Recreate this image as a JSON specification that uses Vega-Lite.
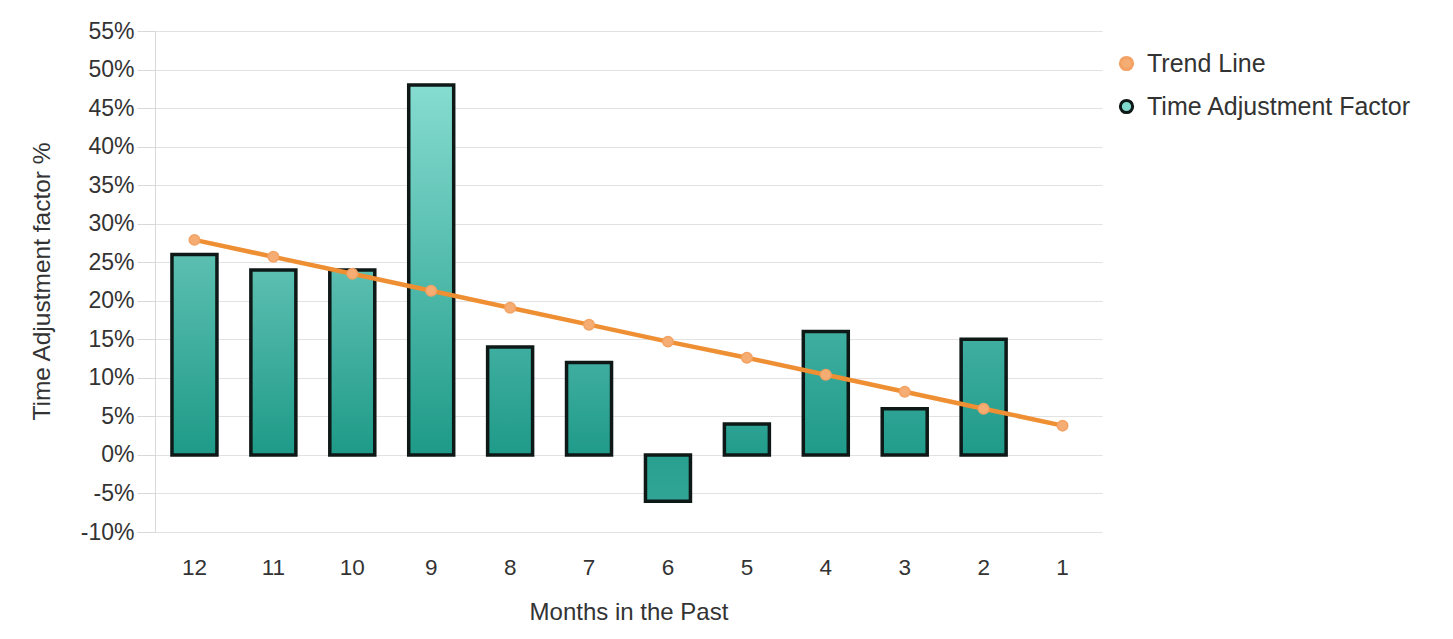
{
  "$schema": "https://vega.github.io/schema/vega-lite/v6.json",
  "width": 947,
  "height": 501,
  "autosize": {"type": "none"},
  "padding": {"left": 155, "top": 31, "right": 351, "bottom": 107},
  "background": "white",
  "config": {
    "font": "Liberation Sans",
    "view": {"stroke": null},
    "axis": {
      "labelColor": "#333333",
      "titleColor": "#333333",
      "labelFont": "Liberation Sans",
      "titleFont": "Liberation Sans",
      "titleFontWeight": "normal"
    },
    "axisY": {
      "labelOverlap": false,
      "labelFontSize": 23,
      "labelPadding": 3,
      "tickSize": 18,
      "tickColor": "#d8d8d8",
      "domainColor": "#d8d8d8",
      "grid": true,
      "gridColor": "#e2e2e2",
      "gridWidth": 1,
      "titleFontSize": 24.5,
      "titleX": -113,
      "titleY": 250,
      "titleAngle": 270,
      "titleAlign": "center",
      "titleBaseline": "middle"
    },
    "legend": {"labelFont": "Liberation Sans"}
  },
  "data": {
    "values": [
      {"month": 12, "factor": 26, "trend": 27.9},
      {"month": 11, "factor": 24, "trend": 25.7},
      {"month": 10, "factor": 24, "trend": 23.5},
      {"month": 9, "factor": 48, "trend": 21.3},
      {"month": 8, "factor": 14, "trend": 19.1},
      {"month": 7, "factor": 12, "trend": 16.9},
      {"month": 6, "factor": -6, "trend": 14.7},
      {"month": 5, "factor": 4, "trend": 12.6},
      {"month": 4, "factor": 16, "trend": 10.4},
      {"month": 3, "factor": 6, "trend": 8.2},
      {"month": 2, "factor": 15, "trend": 6.0},
      {"month": 1, "factor": null, "trend": 3.8}
    ]
  },
  "encoding": {
    "x": {
      "field": "month",
      "type": "ordinal",
      "scale": {
        "domain": [12, 11, 10, 9, 8, 7, 6, 5, 4, 3, 2, 1],
        "paddingInner": 0.43,
        "paddingOuter": 0.215
      },
      "axis": {
        "title": "Months in the Past",
        "labelAngle": 0,
        "labelFontSize": 22.5,
        "titleFontSize": 24,
        "domain": false,
        "ticks": false,
        "grid": false,
        "labelPadding": 24,
        "titleY": 87,
        "titleBaseline": "alphabetic"
      }
    }
  },
  "layer": [
    {
      "mark": {"type": "rule", "color": "#a4a4a4", "strokeWidth": 1.3},
      "encoding": {
        "y": {
          "datum": 0,
          "type": "quantitative",
          "scale": {"domain": [-10, 55], "nice": false, "zero": false},
          "axis": {
            "title": "Time Adjustment factor %",
            "values": [-10, -5, 0, 5, 10, 15, 20, 25, 30, 35, 40, 45, 50, 55],
            "labelExpr": "datum.value + '%'"
          }
        }
      }
    },
    {
      "transform": [{"filter": "datum.factor != null"}],
      "mark": {"type": "bar", "stroke": "#0e1816", "strokeWidth": 3.5, "strokeJoin": "miter"},
      "encoding": {
        "y": {
          "field": "factor",
          "type": "quantitative",
          "axis": {
            "title": "Time Adjustment factor %",
            "values": [-10, -5, 0, 5, 10, 15, 20, 25, 30, 35, 40, 45, 50, 55],
            "labelExpr": "datum.value + '%'"
          }
        },
        "fill": {
          "condition": [
            {
              "test": "datum.factor >= 40",
              "value": {"gradient": "linear", "x1": 0, "y1": 0, "x2": 0, "y2": 1,
                "stops": [{"offset": 0, "color": "#86dcd0"}, {"offset": 1, "color": "#1e9a88"}]}
            },
            {
              "test": "datum.factor >= 20",
              "value": {"gradient": "linear", "x1": 0, "y1": 0, "x2": 0, "y2": 1,
                "stops": [{"offset": 0, "color": "#5cbfb1"}, {"offset": 1, "color": "#1e9a88"}]}
            },
            {
              "test": "datum.factor >= 10",
              "value": {"gradient": "linear", "x1": 0, "y1": 0, "x2": 0, "y2": 1,
                "stops": [{"offset": 0, "color": "#3faea0"}, {"offset": 1, "color": "#1f9a89"}]}
            },
            {
              "test": "datum.factor >= 0",
              "value": {"gradient": "linear", "x1": 0, "y1": 0, "x2": 0, "y2": 1,
                "stops": [{"offset": 0, "color": "#2da394"}, {"offset": 1, "color": "#219c8b"}]}
            }
          ],
          "value": {"gradient": "linear", "x1": 0, "y1": 0, "x2": 0, "y2": 1,
            "stops": [{"offset": 0, "color": "#2aa090"}, {"offset": 1, "color": "#30a595"}]}
        }
      }
    },
    {
      "mark": {"type": "line", "color": "#ef8f33", "strokeWidth": 4.5},
      "encoding": {
        "y": {
          "field": "trend",
          "type": "quantitative",
          "axis": {
            "title": "Time Adjustment factor %",
            "values": [-10, -5, 0, 5, 10, 15, 20, 25, 30, 35, 40, 45, 50, 55],
            "labelExpr": "datum.value + '%'"
          }
        }
      }
    },
    {
      "mark": {"type": "point", "filled": true, "size": 110, "opacity": 1, "strokeWidth": 1.5},
      "encoding": {
        "y": {
          "field": "trend",
          "type": "quantitative",
          "axis": {
            "title": "Time Adjustment factor %",
            "values": [-10, -5, 0, 5, 10, 15, 20, 25, 30, 35, 40, 45, 50, 55],
            "labelExpr": "datum.value + '%'"
          }
        },
        "color": {
          "datum": "Trend Line",
          "scale": {"domain": ["Trend Line", "Time Adjustment Factor"], "range": ["#f5ad73", "#80d9cd"]},
          "legend": {
            "title": null,
            "orient": "none",
            "legendX": 959,
            "legendY": 20,
            "padding": 0,
            "labelFontSize": 25,
            "labelColor": "#333333",
            "labelLimit": 400,
            "labelOffset": 8,
            "rowPadding": 17,
            "symbolType": "circle",
            "symbolSize": 150,
            "symbolStrokeWidth": 3,
            "symbolOpacity": 1
          }
        },
        "stroke": {
          "datum": "Trend Line",
          "scale": {"domain": ["Trend Line", "Time Adjustment Factor"], "range": ["#f3a264", "#0e1816"]},
          "legend": {
            "title": null,
            "orient": "none",
            "legendX": 959,
            "legendY": 20,
            "padding": 0,
            "labelFontSize": 25,
            "labelColor": "#333333",
            "labelLimit": 400,
            "labelOffset": 8,
            "rowPadding": 17,
            "symbolType": "circle",
            "symbolSize": 150,
            "symbolStrokeWidth": 3,
            "symbolOpacity": 1
          }
        }
      }
    }
  ]
}
